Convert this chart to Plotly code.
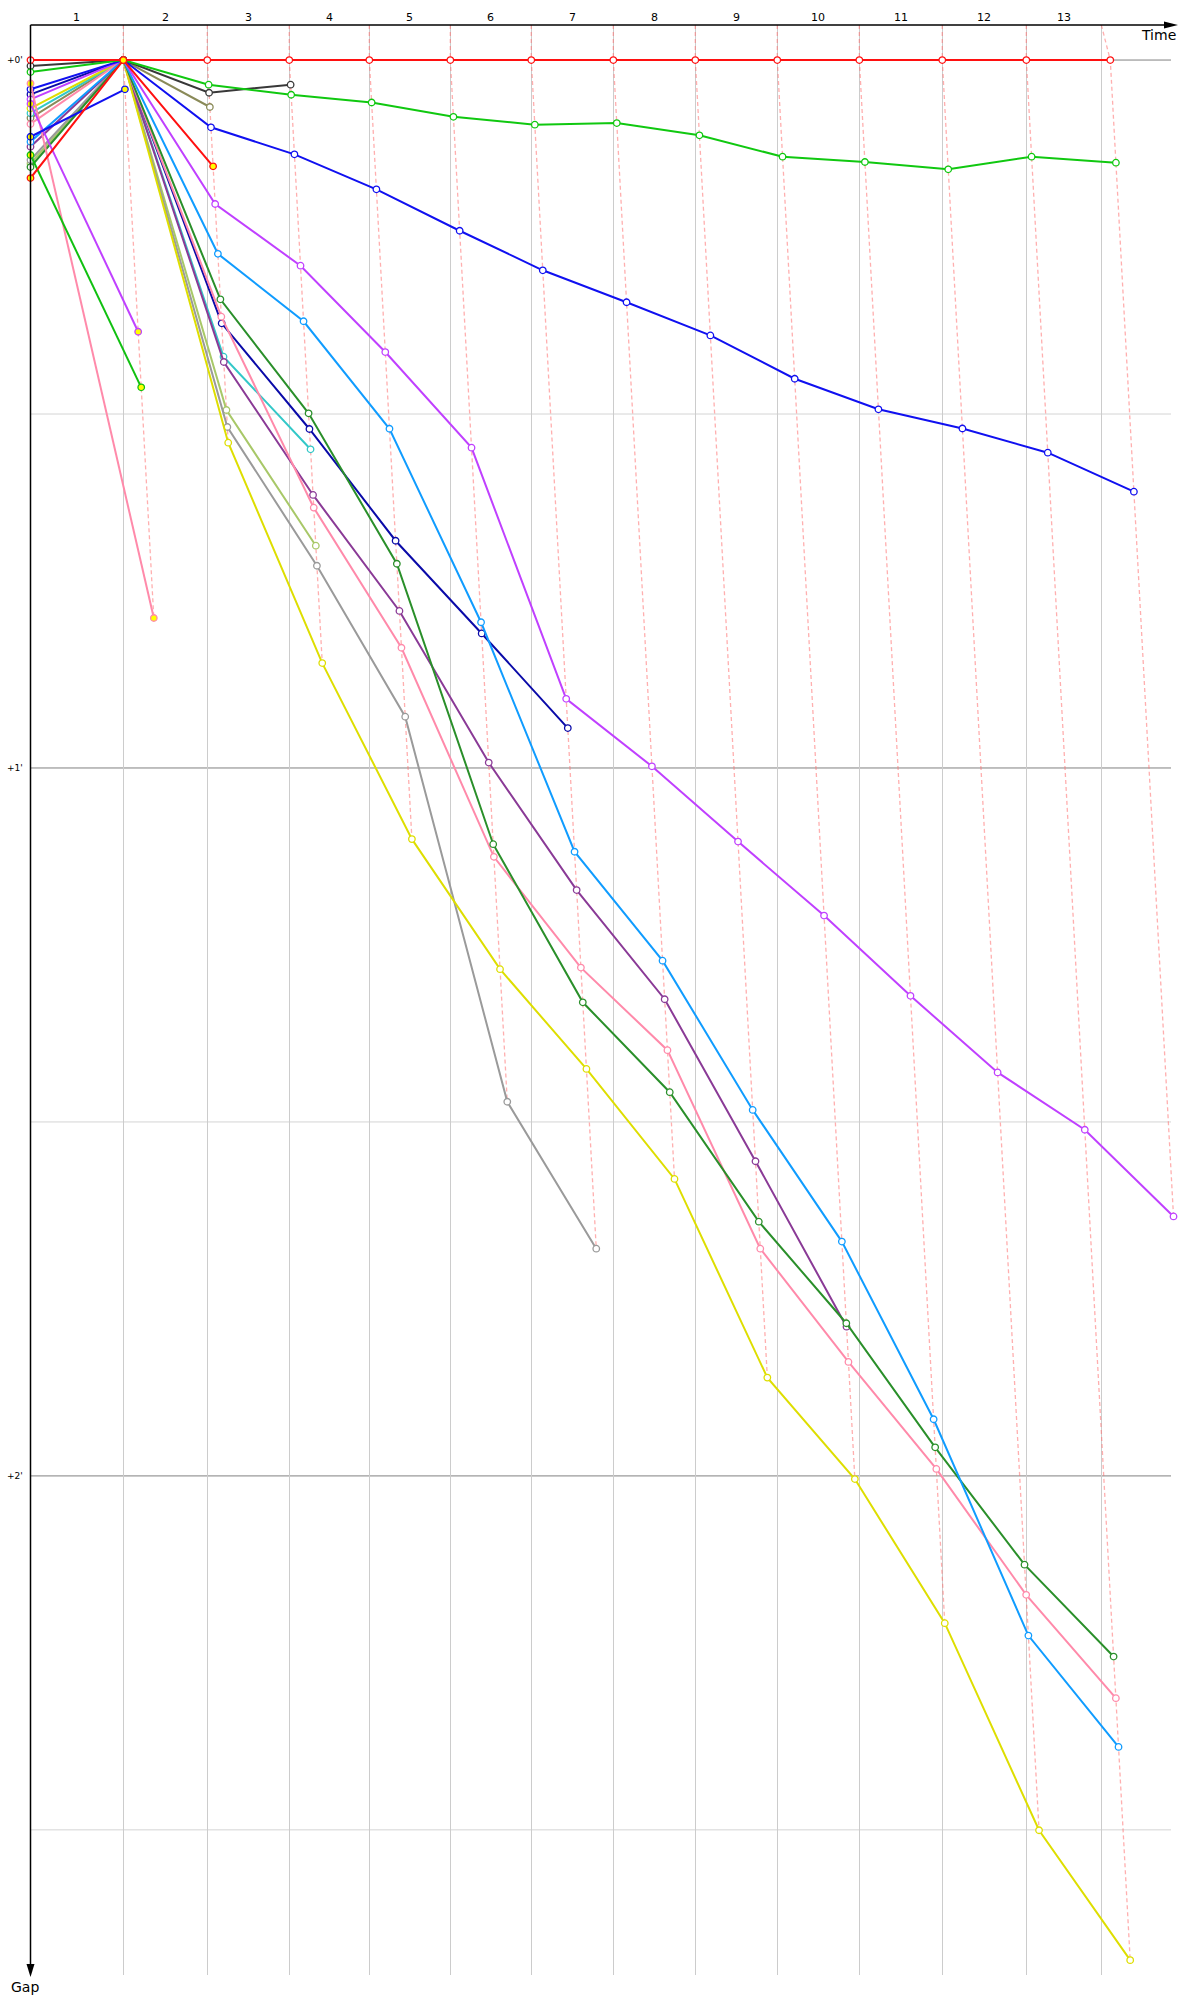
import plotly.graph_objects as go

# ---------------- data ----------------
lap_labels = ["1", "2", "3", "4", "5", "6", "7", "8", "9", "10", "11", "12", "13"]
# leader's cumulative race time (s) at the end of each lap
leader_times = [143.9, 274.1, 401.2, 525.3, 650.9, 776.4, 903.6, 1030.7, 1157.8, 1285.0, 1413.6, 1543.9, 1674.1]
# time of the last vertical grid line (end of the race)
race_end_time = 1660.2

gap_major_ticks = [0, 60, 120]
gap_major_labels = ["+0'", "+1'", "+2'"]
gap_minor_ticks = [30, 90, 150]

# gap to leader (s): first value = start position, then one value per completed lap
gaps_red = [0, 0, 0, 0, 0, 0, 0, 0, 0, 0, 0, 0, 0, 0]
gaps_green = [1.02, 0, 2.09, 2.94, 3.60, 4.81, 5.48, 5.34, 6.38, 8.19, 8.64, 9.26, 8.19, 8.70]
gaps_blue = [2.48, 0, 5.70, 7.99, 10.96, 14.47, 17.82, 20.53, 23.34, 27.01, 29.60, 31.23, 33.28, 36.58]
gaps_violet = [3.33, 0, 12.20, 17.43, 24.75, 32.85, 54.14, 59.86, 66.24, 72.51, 79.31, 85.80, 90.66, 98.01]
gaps_lightblue = [6.92, 0, 16.42, 22.14, 31.25, 47.65, 67.10, 76.33, 88.98, 100.14, 115.20, 133.53, 142.97]
gaps_darkgreen = [9.07, 0, 20.28, 29.94, 42.69, 66.46, 79.86, 87.48, 98.45, 107.06, 117.58, 127.52, 135.31]
gaps_pink = [5.42, 0, 21.75, 37.94, 49.81, 67.53, 76.92, 83.92, 100.74, 110.34, 119.41, 130.08, 138.84]
gaps_yellow = [4.09, 0, 32.43, 51.11, 66.03, 77.05, 85.51, 94.83, 111.67, 120.27, 132.48, 150.03, 161.04]
gaps_darkpurple = [7.35, 0, 25.59, 36.86, 46.69, 59.54, 70.35, 79.60, 93.33, 107.35]
gaps_navy = [2.91, 0, 22.31, 31.27, 40.74, 48.60, 56.62]
gaps_gray = [8.47, 0, 31.10, 42.86, 55.65, 88.29, 100.74]
gaps_turquoise = [4.50, 0, 25.14, 32.99]
gaps_lightolive = [8.77, 0, 29.66, 41.16]
gaps_black = [0.50, 0, 2.77, 2.09]
gaps_olive = [4.92, 0, 3.98]
gaps_red2 = [10.00, 0, 9.01]
gaps_blue2 = [6.50, 2.48]
gaps_purple2 = [3.71, 23.03]
gaps_green2 = [8.05, 27.74]
gaps_pink2 = [1.99, 47.29]

# ---------------- styles ----------------
# (gaps, colour, retired flag) ; drawn in this order
drivers = [
    (gaps_olive, "#8a8a58", False),
    (gaps_black, "#383838", False),
    (gaps_lightolive, "#a8c868", False),
    (gaps_turquoise, "#33c8c8", False),
    (gaps_gray, "#9a9a9a", False),
    (gaps_navy, "#0a0aa8", False),
    (gaps_darkpurple, "#8a3a96", False),
    (gaps_yellow, "#dede00", False),
    (gaps_pink, "#ff8aaa", False),
    (gaps_darkgreen, "#2a8f2a", False),
    (gaps_lightblue, "#109cff", False),
    (gaps_violet, "#c040ff", False),
    (gaps_blue, "#1010f0", False),
    (gaps_green, "#10c810", False),
    (gaps_red, "#ff1010", False),
    (gaps_pink2, "#ff8aaa", True),
    (gaps_purple2, "#c040ff", True),
    (gaps_green2, "#10c010", True),
    (gaps_blue2, "#1010f0", True),
    (gaps_red2, "#ff1010", True),
]

W, H = 1200, 2000
ML, MR, MT, MB = 30, 12, 25, 25
PW, PH = W - ML - MR, H - MT - MB
PX_PER_S = 0.645
X_RANGE = [(ML - 30.5) / PX_PER_S, (W - MR - 30.5) / PX_PER_S]
Y_TOP, Y_BOTTOM = -2.97, 162.3
GRID_RIGHT_PX = 1171
FONT = "DejaVu Sans"


def px_x(px):
    return (px - ML) / PW


def px_y(py):
    return (H - MB - py) / PH


def point_x(lap_index, gap):
    if lap_index == 0:
        return 0.0
    return leader_times[lap_index - 1] + gap


fig = go.Figure()

# dashed "same lap" connectors
grid_times = leader_times[:-1] + [race_end_time]
for k in range(1, len(leader_times) + 1):
    pts = []
    for gaps, _, _ in drivers:
        if len(gaps) > k:
            pts.append((gaps[k], point_x(k, gaps[k])))
    pts.sort()
    xs = [grid_times[k - 1]] + [p[1] for p in pts]
    ys = [Y_TOP] + [p[0] for p in pts]
    fig.add_trace(go.Scatter(
        x=xs, y=ys, mode="lines", hoverinfo="skip",
        line=dict(color="rgba(255,110,110,0.55)", width=1.3, dash="4px,3px"),
        cliponaxis=False,
    ))

for gaps, color, retired in drivers:
    xs = [point_x(i, g) for i, g in enumerate(gaps)]
    fig.add_trace(go.Scatter(
        x=xs, y=gaps, mode="lines+markers", cliponaxis=False,
        line=dict(color=color, width=2),
        marker=dict(symbol="circle", size=6.5,
                    color="#ffff00" if retired else "#ffffff",
                    line=dict(color=color, width=1.3)),
    ))

shapes = []
# horizontal grid lines (stop at the end of the time axis)
for v in gap_minor_ticks:
    shapes.append(dict(type="line", xref="paper", yref="y", x0=px_x(30.5), x1=px_x(GRID_RIGHT_PX),
                       y0=v, y1=v, layer="below", line=dict(color="#d4d4d4", width=1)))
for v in gap_major_ticks:
    shapes.append(dict(type="line", xref="paper", yref="y", x0=px_x(30.5), x1=px_x(GRID_RIGHT_PX),
                       y0=v, y1=v, layer="below", line=dict(color="#808080", width=1)))
shapes += [
    # y axis
    dict(type="line", xref="paper", yref="paper", x0=px_x(30.5), x1=px_x(30.5),
         y0=px_y(25), y1=px_y(1968), line=dict(color="black", width=1.5)),
    dict(type="path", xref="paper", yref="paper", fillcolor="black", line=dict(width=0),
         path=f"M {px_x(26.5)} {px_y(1964)} L {px_x(30.5)} {px_y(1977)} L {px_x(34.5)} {px_y(1964)} Z"),
    # x axis
    dict(type="line", xref="paper", yref="paper", x0=px_x(30.5), x1=px_x(1168),
         y0=px_y(25), y1=px_y(25), line=dict(color="black", width=1.5)),
    dict(type="path", xref="paper", yref="paper", fillcolor="black", line=dict(width=0),
         path=f"M {px_x(1164)} {px_y(21.5)} L {px_x(1178)} {px_y(25)} L {px_x(1164)} {px_y(28.5)} Z"),
]

annotations = []
bounds = [0.0] + grid_times
for i, lab in enumerate(lap_labels):
    annotations.append(dict(
        x=(bounds[i] + bounds[i + 1]) / 2, xref="x", y=px_y(17.5), yref="paper",
        text=lab, showarrow=False, xanchor="center", yanchor="middle",
        font=dict(family=FONT, size=11, color="black")))
for v, lab in zip(gap_major_ticks, gap_major_labels):
    annotations.append(dict(
        x=px_x(24.5), xref="paper", y=v, yref="y", text=lab, showarrow=False,
        xanchor="right", yanchor="middle", font=dict(family=FONT, size=9, color="black")))
annotations.append(dict(x=px_x(1178), xref="paper", y=px_y(35), yref="paper", text="Time",
                        showarrow=False, xanchor="right", yanchor="middle",
                        font=dict(family=FONT, size=14, color="black")))
annotations.append(dict(x=px_x(25), xref="paper", y=px_y(1987), yref="paper", text="Gap",
                        showarrow=False, xanchor="center", yanchor="middle",
                        font=dict(family=FONT, size=14, color="black")))

fig.update_layout(
    width=W, height=H, margin=dict(l=ML, r=MR, t=MT, b=MB, autoexpand=False),
    paper_bgcolor="white", plot_bgcolor="white", showlegend=False,
    shapes=shapes, annotations=annotations,
    xaxis=dict(range=X_RANGE, tickvals=grid_times, showticklabels=False, ticks="",
               showgrid=True, gridcolor="#cccccc", gridwidth=1, zeroline=False,
               showline=False, fixedrange=True),
    yaxis=dict(range=[Y_BOTTOM, Y_TOP], showticklabels=False, ticks="", showgrid=False,
               zeroline=False, showline=False, fixedrange=True),
)

fig.write_html("out.html", config={"displayModeBar": False},
               post_script="document.body.style.margin='0px';document.body.style.overflow='hidden';")
